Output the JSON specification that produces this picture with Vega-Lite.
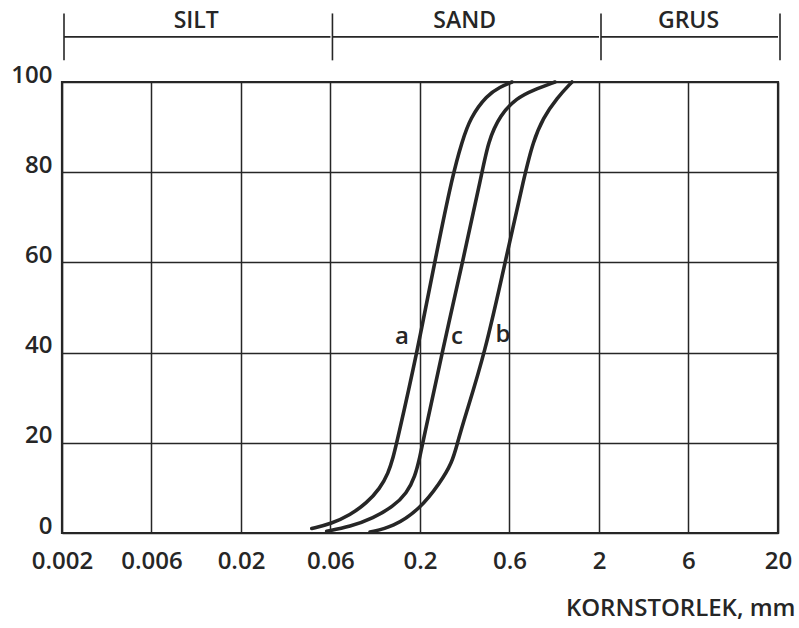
{
  "$schema": "https://vega.github.io/schema/vega-lite/v6.json",
  "width": 716,
  "height": 451,
  "autosize": {"type": "none"},
  "padding": {"left": 62, "top": 82, "right": 21, "bottom": 95},
  "background": "#ffffff",
  "config": {
    "font": "Open Sans",
    "view": {"stroke": "#262626", "strokeWidth": 2.2},
    "axis": {
      "domain": false,
      "ticks": false,
      "tickSize": 0,
      "grid": true,
      "gridColor": "#262626",
      "gridOpacity": 1,
      "gridWidth": 1.5,
      "labelFont": "Open Sans",
      "labelFontWeight": 600,
      "labelColor": "#262626",
      "labelFontSize": 24,
      "labelOverlap": false,
      "labelFlush": false
    }
  },
  "datasets": {
    "curves": [
      {"curve": "a", "d": 0.0497, "p": 1.0},
      {"curve": "a", "d": 0.0642, "p": 2.1},
      {"curve": "a", "d": 0.0813, "p": 4.0},
      {"curve": "a", "d": 0.1007, "p": 6.6},
      {"curve": "a", "d": 0.1195, "p": 9.9},
      {"curve": "a", "d": 0.133, "p": 13.2},
      {"curve": "a", "d": 0.1419, "p": 16.9},
      {"curve": "a", "d": 0.1482, "p": 19.9},
      {"curve": "a", "d": 0.1924, "p": 39.9},
      {"curve": "a", "d": 0.2426, "p": 60.5},
      {"curve": "a", "d": 0.3058, "p": 79.8},
      {"curve": "a", "d": 0.3434, "p": 86.7},
      {"curve": "a", "d": 0.3804, "p": 92.0},
      {"curve": "a", "d": 0.4736, "p": 97.1},
      {"curve": "a", "d": 0.5598, "p": 98.9},
      {"curve": "a", "d": 0.6532, "p": 100},
      {"curve": "c", "d": 0.0602, "p": 0.4},
      {"curve": "c", "d": 0.0813, "p": 1.4},
      {"curve": "c", "d": 0.1097, "p": 3.3},
      {"curve": "c", "d": 0.1419, "p": 5.9},
      {"curve": "c", "d": 0.1686, "p": 8.8},
      {"curve": "c", "d": 0.1876, "p": 12.5},
      {"curve": "c", "d": 0.2, "p": 17.0},
      {"curve": "c", "d": 0.207, "p": 19.9},
      {"curve": "c", "d": 0.2654, "p": 39.9},
      {"curve": "c", "d": 0.3478, "p": 60.5},
      {"curve": "c", "d": 0.444, "p": 79.8},
      {"curve": "c", "d": 0.4798, "p": 86.7},
      {"curve": "c", "d": 0.5598, "p": 92.7},
      {"curve": "c", "d": 0.6966, "p": 96.5},
      {"curve": "c", "d": 0.8558, "p": 98.2},
      {"curve": "c", "d": 1.1356, "p": 100},
      {"curve": "b", "d": 0.1051, "p": 0.2},
      {"curve": "b", "d": 0.1413, "p": 1.3},
      {"curve": "b", "d": 0.2, "p": 5.3},
      {"curve": "b", "d": 0.2586, "p": 11.1},
      {"curve": "b", "d": 0.3018, "p": 15.5},
      {"curve": "b", "d": 0.324, "p": 20.0},
      {"curve": "b", "d": 0.3524, "p": 25.1},
      {"curve": "b", "d": 0.4614, "p": 39.9},
      {"curve": "b", "d": 0.597, "p": 59.9},
      {"curve": "b", "d": 0.772, "p": 79.8},
      {"curve": "b", "d": 0.856, "p": 86.7},
      {"curve": "b", "d": 0.973, "p": 92.0},
      {"curve": "b", "d": 1.165, "p": 96.5},
      {"curve": "b", "d": 1.413, "p": 100}
    ],
    "curveLabels": [
      {"curve": "a", "d": 0.1586, "p": 43.5},
      {"curve": "c", "d": 0.322, "p": 43.5},
      {"curve": "b", "d": 0.582, "p": 43.9}
    ],
    "fractions": [
      {"fraction": "SILT", "from": 0.002, "to": 0.0632},
      {"fraction": "SAND", "from": 0.0632, "to": 2},
      {"fraction": "GRUS", "from": 2, "to": 20}
    ]
  },
  "layer": [
    {
      "data": {"name": "curves"},
      "mark": {"type": "line", "interpolate": "basis", "color": "#262626", "strokeWidth": 3.6, "strokeCap": "round"},
      "encoding": {
        "x": {
          "field": "d",
          "type": "quantitative",
          "scale": {"type": "log", "domain": [0.002, 20], "nice": false},
          "axis": {
            "values": [0.002, 0.00632, 0.02, 0.0632, 0.2, 0.632, 2, 6.32, 20],
            "format": ".1r",
            "labelPadding": 35,
            "labelBaseline": "alphabetic",
            "title": "KORNSTORLEK, mm",
            "titleFont": "Open Sans",
            "titleFontSize": 24,
            "titleFontWeight": 600,
            "titleColor": "#262626",
            "titleAlign": "right",
            "titleBaseline": "alphabetic",
            "titleX": 733,
            "titleY": 82
          }
        },
        "y": {
          "field": "p",
          "type": "quantitative",
          "scale": {"domain": [0, 100], "nice": false, "zero": false},
          "axis": {
            "values": [0, 20, 40, 60, 80, 100],
            "labelPadding": 10,
            "labelBaseline": "alphabetic",
            "title": null
          }
        },
        "detail": {"field": "curve"}
      }
    },
    {
      "data": {"name": "curveLabels"},
      "mark": {"type": "text", "font": "Open Sans", "fontWeight": 600, "fontSize": 24, "color": "#262626", "align": "center", "baseline": "middle"},
      "encoding": {
        "x": {"field": "d", "type": "quantitative"},
        "y": {"field": "p", "type": "quantitative"},
        "text": {"field": "curve"}
      }
    },
    {
      "data": {"name": "fractions"},
      "mark": {"type": "rule", "color": "#262626", "strokeWidth": 1.6, "xOffset": 2},
      "encoding": {
        "x": {"field": "from", "type": "quantitative"},
        "x2": {"field": "to"},
        "y": {"datum": 110}
      }
    },
    {
      "data": {"name": "fractions"},
      "mark": {"type": "rule", "color": "#262626", "strokeWidth": 1.6, "xOffset": 2},
      "encoding": {
        "x": {"field": "from", "type": "quantitative"},
        "y": {"datum": 104.8},
        "y2": {"datum": 115.2}
      }
    },
    {
      "data": {"name": "fractions"},
      "transform": [{"filter": "datum.fraction === 'GRUS'"}],
      "mark": {"type": "rule", "color": "#262626", "strokeWidth": 1.6, "xOffset": 2},
      "encoding": {
        "x": {"field": "to", "type": "quantitative"},
        "y": {"datum": 104.8},
        "y2": {"datum": 115.2}
      }
    },
    {
      "data": {"name": "fractions"},
      "transform": [{"calculate": "sqrt(datum.from * datum.to)", "as": "mid"}],
      "mark": {"type": "text", "font": "Open Sans", "fontWeight": 600, "fontSize": 23, "color": "#262626", "align": "center", "baseline": "alphabetic"},
      "encoding": {
        "x": {"field": "mid", "type": "quantitative"},
        "y": {"datum": 112},
        "text": {"field": "fraction"}
      }
    }
  ]
}
